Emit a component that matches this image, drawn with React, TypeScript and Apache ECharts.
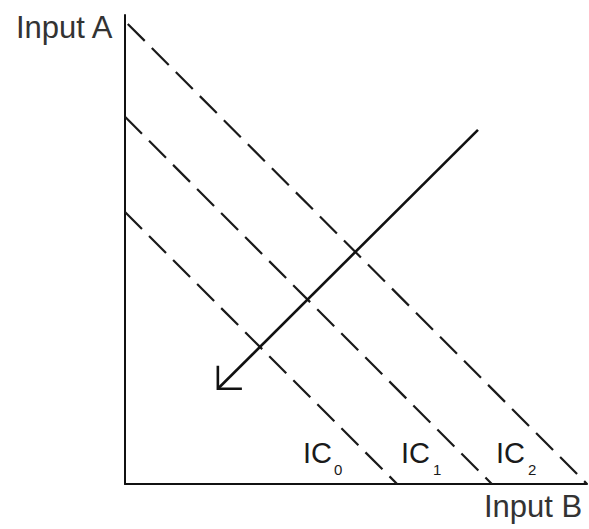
import React, { useEffect, useRef } from "react";
import * as echarts from "echarts";

// Isoquant lines (data units on a 0–10 by 0–10 plane)
const ic0: [number, number][] = [[0, 5.8], [5.89, 0]];
const ic1: [number, number][] = [[0, 7.83], [7.94, 0]];
const ic2: [number, number][] = [[0.06, 9.81], [10, 0]];
const arrowShaft: [number, number][] = [[7.64, 7.55], [2.01, 2.03]];
const arrowHead: [number, number][] = [[2.01, 2.52], [2.01, 2.03], [2.53, 2.03]];
const icNames = ["IC", "IC", "IC"];
const icSubs = ["0", "1", "2"];
const axisNames = ["Input A", "Input B"];

const App: React.FC = () => {
  const ref = useRef<HTMLDivElement>(null);
  useEffect(() => {
    if (!ref.current) return;
    const chart = echarts.init(ref.current, undefined, { renderer: "svg" });
    const font = "Liberation Sans, Arial, sans-serif";
    const dashed = (data: [number, number][]) => ({
      type: "line",
      data,
      showSymbol: false,
      symbol: "none",
      silent: true,
      lineStyle: { color: "#1a1a1a", width: 2.2, type: [24, 10] },
    });
    const icX = [303, 401, 496];
    const subX = [334, 433, 528];
    chart.setOption({
      animation: false,
      backgroundColor: "#fff",
      grid: { left: 125, right: 2, top: 15, bottom: 45 },
      xAxis: {
        type: "value",
        min: 0,
        max: 10,
        axisLine: { show: true, lineStyle: { color: "#111", width: 2 } },
        axisTick: { show: false },
        axisLabel: { show: false },
        splitLine: { show: false },
      },
      yAxis: {
        type: "value",
        min: 0,
        max: 10,
        axisLine: { show: true, lineStyle: { color: "#111", width: 2 } },
        axisTick: { show: false },
        axisLabel: { show: false },
        splitLine: { show: false },
      },
      series: [
        dashed(ic0),
        dashed(ic1),
        dashed(ic2),
        {
          type: "line",
          data: arrowShaft,
          showSymbol: false,
          symbol: "none",
          lineStyle: { color: "#111", width: 2.6 },
        },
        {
          type: "line",
          data: arrowHead,
          showSymbol: false,
          symbol: "none",
          lineStyle: { color: "#111", width: 2.6, join: "miter" },
        },
      ],
      graphic: [
        {
          type: "text",
          x: 16,
          y: 27,
          style: { text: axisNames[0], fontSize: 31, fontFamily: font, fill: "#333", align: "left", verticalAlign: "middle" },
        },
        {
          type: "text",
          x: 484,
          y: 506,
          style: { text: axisNames[1], fontSize: 31, fontFamily: font, fill: "#333", align: "left", verticalAlign: "middle" },
        },
        ...icNames.map((n, i) => ({
          type: "text",
          x: icX[i],
          y: 453,
          style: { text: n, fontSize: 29, fontFamily: font, fill: "#1a1a1a", align: "left", verticalAlign: "middle" },
        })),
        ...icSubs.map((s, i) => ({
          type: "text",
          x: subX[i],
          y: 469,
          style: { text: s, fontSize: 15, fontFamily: font, fill: "#1a1a1a", align: "left", verticalAlign: "middle" },
        })),
      ],
    });
    return () => chart.dispose();
  }, []);
  return (
    <div
      ref={ref}
      style={{ position: "absolute", left: 0, top: 0, width: 589, height: 529, background: "#fff" }}
    />
  );
};

export default App;
